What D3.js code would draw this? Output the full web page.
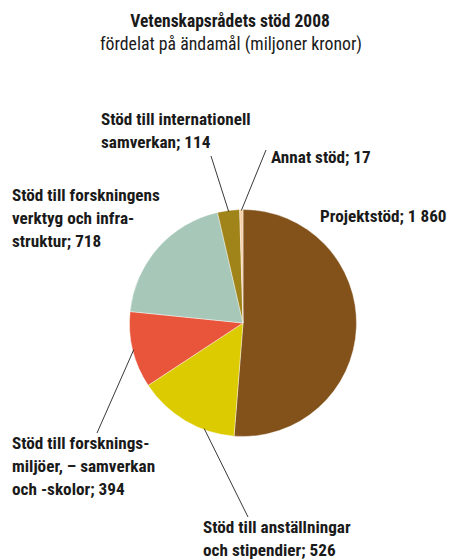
<!DOCTYPE html>
<html>
<head>
<meta charset="utf-8">
<script src="https://cdn.jsdelivr.net/npm/d3@7"></script>
<style>
  body { margin: 0; background: #fff; }
  text { font-family: "Liberation Sans Narrow", "Roboto Condensed", "Open Sans", sans-serif; fill: #1a1a1a; }
</style>
</head>
<body>
<svg id="chart"></svg>
<script>
const categories = [
  "Projektstöd",
  "Stöd till anställningar och stipendier",
  "Stöd till forskningsmiljöer, – samverkan och -skolor",
  "Stöd till forskningens verktyg och infrastruktur",
  "Stöd till internationell samverkan",
  "Annat stöd"
];
const values = [1860, 526, 394, 718, 114, 17];
const labelLines = [
  ["Projektstöd; 1 860"],
  ["Stöd till anställningar", "och stipendier; 526"],
  ["Stöd till forsknings-", "miljöer, – samverkan", "och -skolor; 394"],
  ["Stöd till forskningens", "verktyg och infra-", "struktur; 718"],
  ["Stöd till internationell", "samverkan; 114"],
  ["Annat stöd; 17"]
];
const colors = ["#83521b", "#dccb00", "#e8553a", "#a7c8b9", "#a0841a", "#f7cfa6"];

// label placement: text top-left baseline, leader end point, where on the slice the leader starts (0..1)
const layout = [
  { x: 320, y: 222, leader: null },
  { x: 203, y: 533, leader: { x: 248, y: 517, t: 0.3 } },
  { x: 12, y: 449, leader: { x: 97, y: 433, t: 0.5 } },
  { x: 12, y: 201, leader: null },
  { x: 101, y: 125, leader: { x: 211, y: 156, t: 0.5 } },
  { x: 271, y: 163, leader: { x: 266, y: 150, t: 0.5 } }
];

const width = 452, height = 560;
const cx = 243, cy = 323, r = 113.5;

const svg = d3.select("#chart")
  .attr("width", width)
  .attr("height", height);

// titel
svg.append("text")
  .attr("x", 230).attr("y", 27)
  .attr("text-anchor", "middle")
  .style("font-size", "17.5px")
  .style("font-weight", "bold")
  .text("Vetenskapsrådets stöd 2008");
svg.append("text")
  .attr("x", 231).attr("y", 50)
  .attr("text-anchor", "middle")
  .style("font-size", "17.8px")
  .text("fördelat på ändamål (miljoner kronor)");

const pie = d3.pie().sort(null).value(d => d);
const arcs = pie(values);
const arc = d3.arc().innerRadius(0).outerRadius(r);

const g = svg.append("g").attr("transform", `translate(${cx},${cy})`);

g.selectAll("path")
  .data(arcs)
  .enter()
  .append("path")
  .attr("d", arc)
  .attr("fill", (d, i) => colors[i])
  .attr("stroke", "#fff")
  .attr("stroke-width", 0.4);

// linjer
arcs.forEach((d, i) => {
  const l = layout[i].leader;
  if (!l) return;
  const a = d.startAngle + (d.endAngle - d.startAngle) * l.t;
  const x0 = cx + Math.sin(a) * (r - 1);
  const y0 = cy - Math.cos(a) * (r - 1);
  svg.append("line")
    .attr("x1", x0).attr("y1", y0)
    .attr("x2", l.x).attr("y2", l.y)
    .attr("stroke", "#222")
    .attr("stroke-width", 0.9);
});

// etiketter
labelLines.forEach((lines, i) => {
  const t = svg.append("text")
    .attr("x", layout[i].x)
    .attr("y", layout[i].y)
    .style("font-size", "17.2px")
    .style("font-weight", "bold");
  lines.forEach((s, j) => {
    t.append("tspan")
      .attr("x", layout[i].x)
      .attr("dy", j === 0 ? 0 : 23)
      .text(s);
  });
});
</script>
</body>
</html>
